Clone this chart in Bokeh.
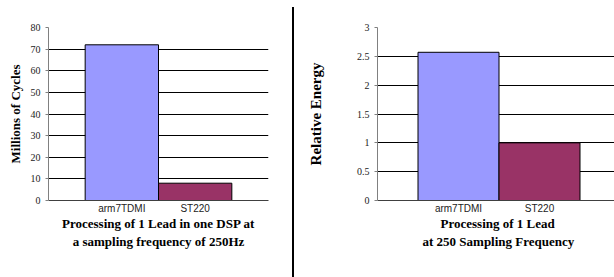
from bokeh.plotting import figure
from bokeh.models import FixedTicker, Title, Div, Range1d, ColumnDataSource
from bokeh.layouts import row
from bokeh.embed import file_html
from bokeh.resources import INLINE

# ---- data ----
categories = ["arm7TDMI", "ST220"]
cycles = [72, 8]
energy = [2.57, 1.0]
bar_colors = ["#9999FF", "#993366"]
cycles_ticks = [0, 10, 20, 30, 40, 50, 60, 70, 80]
energy_ticks = [0, 0.5, 1, 1.5, 2, 2.5, 3]
cycles_title = ["Processing of 1 Lead in one DSP at", "a sampling frequency of 250Hz"]
energy_title = ["Processing of 1 Lead", "at 250 Sampling Frequency"]
cycles_ylabel = "Millions of Cycles"
energy_ylabel = "Relative Energy"


def make_chart(values, yticks, ylabel, title_lines, width, x_end,
               border_left, border_right, border_bottom,
               label_font, label_standoff, title_align, title_offsets):
    xs = [i + 1 for i in range(len(categories))]
    src = ColumnDataSource(dict(x=xs, top=values, color=bar_colors))
    p = figure(width=width, height=277, output_backend="svg", toolbar_location=None,
               x_range=Range1d(0, x_end), y_range=Range1d(yticks[0], yticks[-1]),
               min_border_left=border_left, min_border_right=border_right,
               min_border_top=27, min_border_bottom=border_bottom)
    p.outline_line_color = None
    p.background_fill_color = "white"
    p.border_fill_color = "white"
    p.xgrid.visible = False
    p.ygrid.ticker = FixedTicker(ticks=yticks)
    p.ygrid.grid_line_color = "black"
    p.ygrid.grid_line_width = 1

    p.vbar(x="x", top="top", width=1.0, bottom=0, fill_color="color",
           line_color="black", line_width=1, source=src)

    # y axis
    ya = p.yaxis[0]
    ya.ticker = FixedTicker(ticks=yticks)
    ya.axis_line_color = "#808080"
    ya.major_tick_line_color = "#808080"
    ya.major_tick_out = 3
    ya.major_tick_in = 0
    ya.minor_tick_line_color = None
    ya.major_label_text_font = "Liberation Serif"
    ya.major_label_text_font_size = "10px"
    ya.major_label_text_color = "#222222"
    ya.major_label_standoff = 5
    ya.axis_label = ylabel
    ya.axis_label_text_font = "Liberation Serif"
    ya.axis_label_text_font_style = "bold"
    ya.axis_label_text_font_size = label_font
    ya.axis_label_text_color = "black"
    ya.axis_label_standoff = label_standoff

    # x axis
    xa = p.xaxis[0]
    xa.ticker = FixedTicker(ticks=xs)
    xa.major_label_overrides = {x: c for x, c in zip(xs, categories)}
    xa.axis_line_color = "#404040"
    xa.major_tick_line_color = None
    xa.major_tick_out = 0
    xa.major_tick_in = 0
    xa.minor_tick_line_color = None
    xa.minor_tick_out = 0
    xa.axis_label = None
    xa.axis_label_standoff = 0
    xa.major_label_text_font = "Liberation Sans"
    xa.major_label_text_font_size = "10px"
    xa.major_label_text_color = "#222222"
    xa.major_label_standoff = 2

    for i, line in enumerate(title_lines):
        p.add_layout(Title(text=line, align=title_align, offset=title_offsets[i],
                           standoff=-5 if i == 0 else 6,
                           text_font="Liberation Serif", text_font_style="bold",
                           text_font_size="13px", text_color="black"), "below")
    return p


left = make_chart(cycles, cycles_ticks, cycles_ylabel, cycles_title,
                  width=292, x_end=3, border_left=48, border_right=24, border_bottom=73,
                  label_font="13px", label_standoff=5,
                  title_align="center", title_offsets=[0, 0])
right = make_chart(energy, energy_ticks, energy_ylabel, energy_title,
                   width=320, x_end=237 / 81, border_left=83, border_right=0, border_bottom=77,
                   label_font="15px", label_standoff=30,
                   title_align="left", title_offsets=[63, 45])

sep = Div(width=2, height=270, margin=(7, 0, 0, 0), styles={"background-color": "black"})

layout = row(left, sep, right)
open("out.html", "w").write(file_html(layout, INLINE))
